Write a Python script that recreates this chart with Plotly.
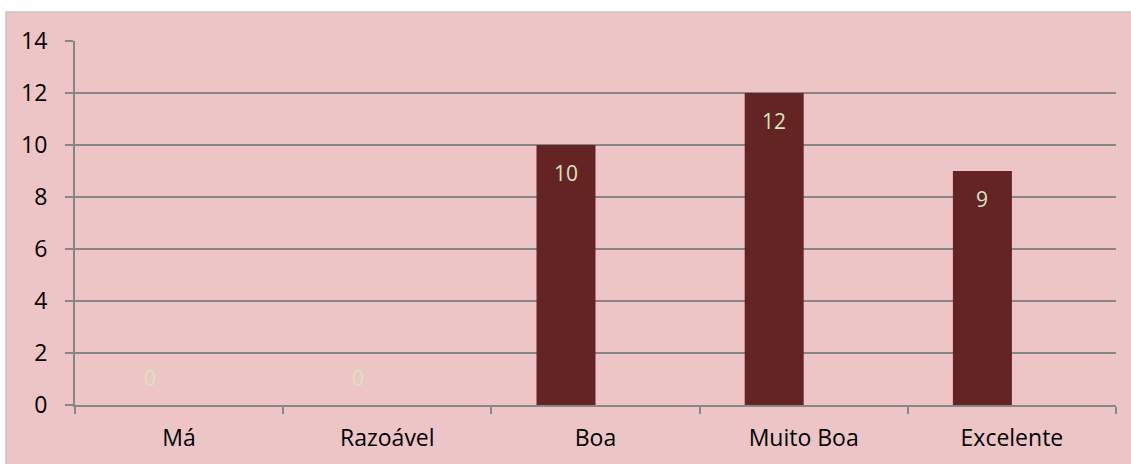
import plotly.graph_objects as go

categories = ["Má", "Razoável", "Boa", "Muito Boa", "Excelente"]
values = [0, 0, 10, 12, 9]
y_ticks = [0, 2, 4, 6, 8, 10, 12, 14]

W, H = 1131, 464
L, R, T, B = 75, 15, 41, 59
pw, ph = W - L - R, H - T - B

bar_color = "#632423"
label_color = "#D7E4BD"
bg_pink = "#EEC5C7"
grid_color = "#878787"
font_family = "Open Sans, Noto Sans, sans-serif"

bar_w = 59 / (pw / len(categories))

fig = go.Figure()
fig.add_trace(go.Bar(
    x=categories, y=values,
    width=bar_w, offset=-bar_w,
    marker=dict(color=bar_color, line=dict(width=0)),
    hoverinfo="x+y",
))

for c, v in zip(categories, values):
    fig.add_annotation(
        x=c, y=v, xref="x", yref="y", text=str(v), showarrow=False,
        xshift=-29.5, yshift=(-28 if v > 0 else 27),
        font=dict(family=font_family, size=21, color=label_color),
        xanchor="center", yanchor="middle",
    )

# chart area background
fig.add_shape(
    type="rect", xref="paper", yref="paper", layer="below",
    x0=(6 - L) / pw, x1=(W - L) / pw + 0.01,
    y0=-(H - (H - B)) / ph - 0.01, y1=(H - B - 12) / ph,
    fillcolor=bg_pink, line=dict(color="#C4C4C4", width=1.5),
)

fig.update_layout(
    width=W, height=H,
    margin=dict(l=L, r=R, t=T, b=B, pad=0),
    paper_bgcolor="white",
    plot_bgcolor="rgba(0,0,0,0)",
    showlegend=False,
    font=dict(family=font_family, size=23, color="black"),
    xaxis=dict(
        type="category", tickson="boundaries", ticks="outside", ticklen=7,
        tickcolor=grid_color, tickwidth=2,
        showline=True, linecolor=grid_color, linewidth=2,
        showgrid=False, ticklabelstandoff=11,
        tickfont=dict(size=23),
    ),
    yaxis=dict(
        range=[0, 14], tickvals=y_ticks, ticks="outside", ticklen=8,
        tickcolor=grid_color, tickwidth=2,
        showline=True, linecolor=grid_color, linewidth=2,
        showgrid=True, gridcolor=grid_color, gridwidth=2,
        zeroline=False, ticklabelstandoff=13,
        tickfont=dict(size=23),
    ),
)

fig.write_html(
    "out.html",
    config={"displayModeBar": False},
    post_script="document.body.style.margin='0';document.body.style.overflow='hidden';",
)
